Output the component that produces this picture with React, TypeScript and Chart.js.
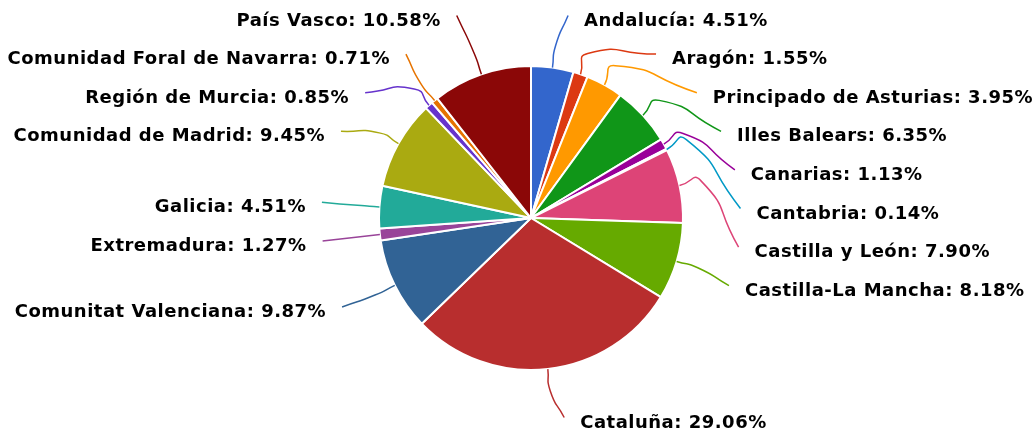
import React, { useEffect, useRef } from 'react';
import { Chart, registerables } from 'chart.js';

Chart.register(...registerables);

const categories = [
  'Andalucía',
  'Aragón',
  'Principado de Asturias',
  'Illes Balears',
  'Canarias',
  'Cantabria',
  'Castilla y León',
  'Castilla-La Mancha',
  'Cataluña',
  'Comunitat Valenciana',
  'Extremadura',
  'Galicia',
  'Comunidad de Madrid',
  'Región de Murcia',
  'Comunidad Foral de Navarra',
  'País Vasco',
];

const values = [4.51, 1.55, 3.95, 6.35, 1.13, 0.14, 7.9, 8.18, 29.06, 9.87, 1.27, 4.51, 9.45, 0.85, 0.71, 10.58];

const colors = [
  '#3366cc', '#dc3912', '#ff9900', '#109618', '#990099', '#0099c6', '#dd4477', '#66aa00',
  '#b82e2e', '#316395', '#994499', '#22aa99', '#aaaa11', '#6633cc', '#e67300', '#8b0707',
];

const FONT = 'bold 18px "DejaVu Sans"';
const BEND_LEN = 22; // visual bend of the connector, outside the slice edge
const LABEL_LEN = 49; // radial length used to place the label
const LABEL_LEN2 = 8.7; // extra horizontal length
const LABEL_GAP = 38.6;
const TEXT_GAP = 16;
const SMOOTH = 0.65;

const labelText = (i: number) => `${categories[i]}: ${values[i].toFixed(2)}%`;

const outsideLabels = {
  id: 'outsideLabels',
  afterDatasetsDraw(chart: any) {
    const meta = chart.getDatasetMeta(0);
    const ctx: CanvasRenderingContext2D = chart.ctx;
    const arcs = meta.data as any[];
    if (!arcs.length) return;
    const cx = arcs[0].x;
    const cy = arcs[0].y;
    const r = arcs[0].outerRadius;
    const RA = r + LABEL_LEN;
    const items = arcs.map((arc, i) => {
      const mid = (arc.startAngle + arc.endAngle) / 2;
      const cos = Math.cos(mid);
      const sin = Math.sin(mid);
      return { i, cos, sin, dir: cos >= 0 ? 1 : -1, natural: cy + RA * sin, ly: 0, lx: 0 };
    });
    const minY = 15.5;
    const maxY = chart.height - 11.5;
    for (const dir of [1, -1]) {
      const side = items.filter((it) => it.dir === dir).sort((a, b) => a.natural - b.natural);
      const groups = side.map((it) => ({ members: [it], top: it.natural }));
      const place = (g: any) => {
        const mean = g.members.reduce((s: number, m: any) => s + m.natural, 0) / g.members.length;
        const span = (g.members.length - 1) * LABEL_GAP;
        g.top = Math.min(Math.max(mean - span / 2, minY), maxY - span);
      };
      groups.forEach(place);
      let merged = true;
      while (merged) {
        merged = false;
        for (let k = 0; k < groups.length - 1; k++) {
          const a = groups[k];
          const b = groups[k + 1];
          if (a.top + a.members.length * LABEL_GAP > b.top) {
            a.members = a.members.concat(b.members);
            groups.splice(k + 1, 1);
            place(a);
            merged = true;
            break;
          }
        }
      }
      groups.forEach((g) => g.members.forEach((m, k) => (m.ly = g.top + k * LABEL_GAP)));
      for (const it of side) {
        const dy = it.ly - cy;
        const dx = dy * dy < RA * RA ? Math.sqrt(RA * RA - dy * dy) : RA * Math.abs(it.cos);
        it.lx = cx + dir * (dx + LABEL_LEN2);
      }
    }

    ctx.save();
    for (const it of items) {
      const p0 = [cx + r * it.cos, cy + r * it.sin];
      const p1 = [cx + (r + BEND_LEN) * it.cos, cy + (r + BEND_LEN) * it.sin];
      const p2 = [it.lx, it.ly];
      const d0 = Math.hypot(p1[0] - p0[0], p1[1] - p0[1]);
      const d1 = Math.hypot(p2[0] - p1[0], p2[1] - p1[1]);
      const vx = (p2[0] - p0[0]) * SMOOTH;
      const vy = (p2[1] - p0[1]) * SMOOTH;
      const sum = d0 + d1 || 1;
      const c0 = [p0[0] + (p1[0] - p0[0]) * SMOOTH, p0[1] + (p1[1] - p0[1]) * SMOOTH];
      const c1a = [p1[0] - (vx * d0) / sum, p1[1] - (vy * d0) / sum];
      const c1b = [p1[0] + (vx * d1) / sum, p1[1] + (vy * d1) / sum];
      const c2 = [p2[0] - (p2[0] - p1[0]) * SMOOTH, p2[1] - (p2[1] - p1[1]) * SMOOTH];
      ctx.beginPath();
      ctx.moveTo(p0[0], p0[1]);
      ctx.bezierCurveTo(c0[0], c0[1], c1a[0], c1a[1], p1[0], p1[1]);
      ctx.bezierCurveTo(c1b[0], c1b[1], c2[0], c2[1], p2[0], p2[1]);
      ctx.strokeStyle = colors[it.i];
      ctx.lineWidth = 1.5;
      ctx.stroke();

      ctx.font = FONT;
      (ctx as any).letterSpacing = '0.5px';
      ctx.fillStyle = '#000000';
      ctx.textAlign = it.dir > 0 ? 'left' : 'right';
      ctx.textBaseline = 'alphabetic';
      ctx.fillText(labelText(it.i), it.lx + it.dir * TEXT_GAP, it.ly + 10);
    }
    ctx.restore();
  },
};

export default function App() {
  const canvasRef = useRef<HTMLCanvasElement | null>(null);

  useEffect(() => {
    document.body.style.margin = '0';
    const canvas = canvasRef.current;
    if (!canvas) return;
    const chart = new Chart(canvas, {
      type: 'pie',
      data: {
        labels: categories,
        datasets: [
          {
            data: values,
            backgroundColor: colors,
            borderColor: '#ffffff',
            borderWidth: 2,
            hoverOffset: 0,
          },
        ],
      },
      options: {
        animation: false,
        responsive: false,
        devicePixelRatio: 1,
        layout: { padding: { top: 65, bottom: 58, left: 378, right: 349 } },
        plugins: {
          legend: { display: false },
          tooltip: { enabled: false },
        },
        events: [],
      },
      plugins: [outsideLabels],
    });
    return () => chart.destroy();
  }, []);

  return (
    <div style={{ position: 'fixed', left: 0, top: 0, width: 1033, height: 429, background: '#fff' }}>
      <canvas ref={canvasRef} width={1033} height={429} style={{ display: 'block' }} />
    </div>
  );
}
